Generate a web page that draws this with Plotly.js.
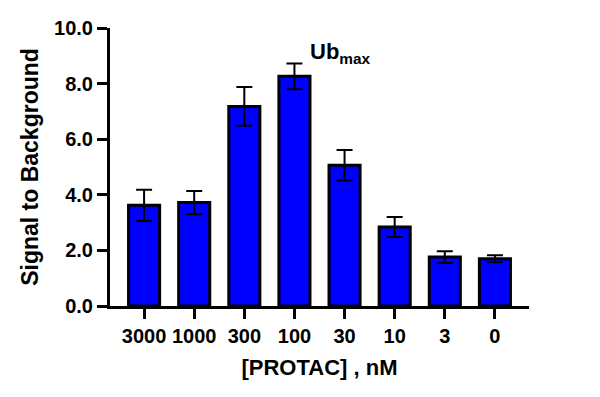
<!DOCTYPE html>
<html>
<head>
<meta charset="utf-8">
<script src="https://cdn.plot.ly/plotly-3.0.1.min.js"></script>
<style>html,body{margin:0;padding:0;background:#fff;}#chart{width:600px;height:397px;}</style>
</head>
<body>
<div id="chart"></div>
<script>
const categories = ["3000", "1000", "300", "100", "30", "10", "3", "0"];
const signal = [3.62, 3.72, 7.18, 8.26, 5.06, 2.84, 1.76, 1.70];
const errors = [0.56, 0.42, 0.70, 0.46, 0.55, 0.36, 0.21, 0.13];
const yTitle = "Signal to Background";
const xTitle = "[PROTAC] , nM";
const label = "Ub<sub>max</sub>";

const font = {family: "Liberation Sans, Arial, sans-serif", color: "#000", weight: "bold"};

const trace = {
  type: "bar",
  x: categories,
  y: signal,
  width: 0.62,
  marker: {color: "#0000FF", line: {color: "#000", width: 3}},
  error_y: {type: "data", array: errors, visible: true, color: "#000", thickness: 2, width: 8}
};

const layout = {
  width: 600, height: 397,
  margin: {l: 110, r: 71, t: 28, b: 91},
  paper_bgcolor: "#fff", plot_bgcolor: "#fff",
  showlegend: false,
  font: font,
  xaxis: {
    type: "category",
    range: [-0.68, 7.68],
    showline: true, linecolor: "#000", linewidth: 3,
    ticks: "outside", ticklen: 10, tickwidth: 3, tickcolor: "#000",
    showgrid: false, zeroline: false,
    tickfont: Object.assign({}, font, {size: 20}),
    title: {text: xTitle, font: Object.assign({}, font, {size: 22}), standoff: 14}
  },
  yaxis: {
    range: [0, 10], dtick: 2, tickformat: ".1f",
    showline: true, linecolor: "#000", linewidth: 3,
    ticks: "outside", ticklen: 10, tickwidth: 3, tickcolor: "#000",
    showgrid: false, zeroline: false,
    tickfont: Object.assign({}, font, {size: 20}),
    title: {text: yTitle, font: Object.assign({}, font, {size: 23}), standoff: 10}
  },
  annotations: [{
    text: label, xref: "x", yref: "y", x: 3.28, y: 9.1,
    xanchor: "left", yanchor: "middle", showarrow: false,
    font: Object.assign({}, font, {size: 22})
  }]
};

Plotly.newPlot("chart", [trace], layout, {displayModeBar: false, staticPlot: true});
</script>
</body>
</html>
